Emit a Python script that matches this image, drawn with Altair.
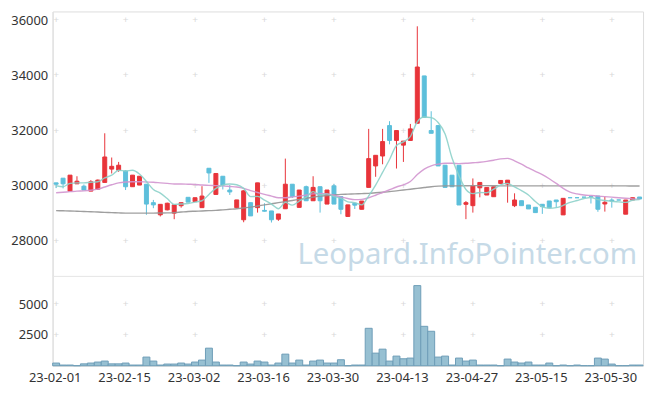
import altair as alt
import pandas as pd

dates = [
    "23-02-01", "23-02-02", "23-02-03", "23-02-06", "23-02-07", "23-02-08", "23-02-09", "23-02-10",
    "23-02-13", "23-02-14", "23-02-15", "23-02-16", "23-02-17", "23-02-20", "23-02-21", "23-02-22",
    "23-02-23", "23-02-24", "23-02-27", "23-02-28",
    "23-03-02", "23-03-03", "23-03-06", "23-03-07", "23-03-08", "23-03-09", "23-03-10", "23-03-13",
    "23-03-14", "23-03-15", "23-03-16", "23-03-17", "23-03-20", "23-03-21", "23-03-22", "23-03-23",
    "23-03-24", "23-03-27", "23-03-28", "23-03-29", "23-03-30", "23-03-31",
    "23-04-03", "23-04-04", "23-04-05", "23-04-06", "23-04-07", "23-04-10", "23-04-11", "23-04-12",
    "23-04-13", "23-04-14", "23-04-17", "23-04-18", "23-04-19", "23-04-20", "23-04-21", "23-04-24",
    "23-04-25", "23-04-26", "23-04-27", "23-04-28",
    "23-05-02", "23-05-03", "23-05-04", "23-05-08", "23-05-09", "23-05-10", "23-05-11", "23-05-12",
    "23-05-15", "23-05-16", "23-05-17", "23-05-18", "23-05-19", "23-05-22", "23-05-23", "23-05-24",
    "23-05-25", "23-05-26", "23-05-30", "23-05-31",
    "23-06-01", "23-06-02", "23-06-05",
]

opens = [30100, 30270, 29800, 30065, 29980, 29800, 29870, 30115, 30600, 30560,
         30530, 29960, 30020, 30050, 29380, 28940, 29120, 29000, 29270, 29575,
         29420, 29200, 30630, 29680, 30340, 29840, 29200, 28760, 29380, 29200,
         29100, 29080, 28780, 29160, 30050, 29210, 29960, 29450, 29960, 29330,
         29990, 29600, 28880, 29360, 29140, 29935, 30714, 31075, 32180, 31640,
         31470, 31640, 32264, 33983, 32000, 32180, 30740, 30378, 30739, 29322,
         29272, 29921, 29658, 29597, 30079, 30054, 29272, 29452, 29297, 29214,
         29322, 29442, 29478, 28937, 29560, 29560, 29580, 29600, 29622, 29333,
         29478, 29478, 28962, 29478, 29586]

closes = [30050, 30065, 30380, 30160, 29840, 30140, 30200, 31040, 30700, 30740,
          29960, 30380, 30340, 29330, 29300, 29320, 29360, 29300, 29380, 29400,
          29560, 29620, 30460, 30440, 30020, 29770, 29480, 29810, 28900, 30100,
          29070, 28760, 28970, 30050, 29600, 29840, 29450, 29935, 29450, 29840,
          29330, 29140, 29300, 29290, 29440, 30980, 31100, 31600, 31640, 32000,
          31616, 32060, 34307, 32480, 31900, 30714, 29935, 29957, 29297, 29380,
          29982, 30115, 29935, 29957, 30187, 30198, 29478, 29272, 29153, 29020,
          29236, 29200, 29416, 29538, 29560, 29560, 29580, 29600, 29142, 29395,
          29440, 29478, 29478, 29560, 29514]

highs = [30100, 30270, 30380, 30340, 30040, 30200, 30220, 31900, 31020, 30860,
         30560, 30380, 30340, 30050, 29480, 29320, 29380, 29300, 29380, 29575,
         29560, 29980, 30630, 30440, 30340, 30020, 29480, 29830, 29380, 30100,
         29360, 29080, 28970, 30980, 30050, 29840, 30000, 30340, 29960, 29840,
         30060, 29600, 29300, 29360, 29440, 32060, 31100, 32060, 32340, 32000,
         31616, 32240, 35785, 33983, 32700, 32180, 30740, 30378, 30739, 29440,
         30260, 30115, 29935, 29957, 30187, 30198, 29720, 29452, 29297, 29214,
         29322, 29442, 29478, 29538, 29560, 29560, 29580, 29600, 29622, 29597,
         29540, 29478, 29478, 29560, 29586]

lows = [29910, 29900, 29800, 30065, 29840, 29800, 29850, 30115, 30440, 30500,
        29840, 29960, 30020, 28940, 29180, 28880, 29100, 28780, 29200, 29400,
        29420, 29200, 30100, 29680, 29860, 29660, 29200, 28670, 28900, 29020,
        29060, 28660, 28720, 29150, 29550, 29210, 29450, 29450, 29020, 29330,
        29330, 28960, 28880, 29150, 29140, 29935, 30320, 30775, 31500, 30620,
        30860, 31640, 32264, 32480, 31900, 30714, 29935, 29957, 29297, 28782,
        29020, 29575, 29658, 29597, 30079, 29380, 29220, 29272, 29153, 29020,
        28973, 29200, 29200, 28937, 29560, 29560, 29580, 29350, 29050, 29056,
        29200, 29478, 28962, 29478, 29514]

volumes = [215, 54, 54, 0, 150, 215, 296, 376, 150, 150,
           215, 54, 54, 700, 376, 54, 134, 134, 215, 134,
           296, 457, 1425, 296, 54, 54, 0, 296, 134, 376,
           296, 54, 215, 941, 215, 457, 54, 376, 457, 215,
           215, 484, 0, 54, 54, 3040, 1022, 1345, 377, 780,
           565, 619, 6510, 3201, 2798, 700, 780, 54, 619, 377,
           457, 54, 54, 54, 0, 538, 296, 215, 296, 54,
           54, 215, 0, 54, 0, 54, 0, 0, 619, 538,
           134, 0, 0, 54, 54]

ma5 = [29990, 29960, 30080, 30100, 30100, 30120, 30140, 30280, 30380, 30560,
       30530, 30560, 30420, 30150, 29860, 29730, 29530, 29320, 29330, 29350,
       29400, 29450, 29680, 29900, 30020, 30060, 30030, 29900, 29600, 29610,
       29470, 29330, 29160, 29390, 29290, 29440, 29580, 29780, 29660, 29700,
       29600, 29540, 29410, 29380, 29300, 29630, 30020, 30480, 30950, 31460,
       31590, 31780, 32320, 32490, 32470, 32290, 31870, 31000, 30360, 29860,
       29710, 29750, 29740, 29870, 30030, 30080, 29950, 29820, 29660, 29420,
       29230, 29180, 29200, 29280, 29390, 29460, 29530, 29570, 29490, 29460,
       29430, 29410, 29390, 29470, 29490]

ma20 = [29740, 29760, 29780, 29800, 29810, 29830, 29870, 29950, 30030, 30100,
        30130, 30140, 30140, 30130, 30120, 30100, 30080, 30060, 30060, 30050,
        30040, 30020, 30010, 30000, 29990, 29970, 29950, 29900, 29820, 29750,
        29680, 29620, 29560, 29560, 29590, 29620, 29660, 29700, 29720, 29700,
        29650, 29580, 29530, 29490, 29500, 29560, 29650, 29750, 29850, 29950,
        30030, 30150, 30400, 30600, 30720, 30780, 30810, 30810, 30800, 30810,
        30830, 30850, 30880, 30920, 30970, 30990, 30900, 30780, 30640, 30520,
        30400, 30250, 30080, 29900, 29760, 29700, 29660, 29640, 29620, 29600,
        29580, 29560, 29540, 29520, 29500]

ma60 = [29090, 29085, 29080, 29070, 29060, 29050, 29040, 29030, 29020, 29010,
        29000, 29000, 29000, 29000, 29000, 29005, 29010, 29020, 29040, 29060,
        29070, 29080, 29090, 29100, 29120, 29140, 29160, 29190, 29220, 29260,
        29300, 29340, 29380, 29420, 29460, 29500, 29540, 29580, 29620, 29640,
        29660, 29680, 29690, 29700, 29710, 29720, 29740, 29760, 29780, 29810,
        29840, 29870, 29900, 29930, 29960, 29980, 29990, 29990, 29990, 29995,
        30000, 30000, 30000, 29995, 29990, 29990, 29990, 29990, 29990, 29990,
        29990, 29990, 29990, 29990, 29990, 29990, 29990, 29990, 29990, 29990,
        29990, 29990, 29990, 29985, 29985]

tick_labels = ["23-02-01", "23-02-15", "23-03-02", "23-03-16", "23-03-30",
               "23-04-13", "23-04-27", "23-05-15", "23-05-30"]
price_ticks = [28000, 30000, 32000, 34000, 36000]
volume_ticks = [2500, 5000]
watermark = ["Leopard.InfoPointer.com"]

FONT = "Noto Sans"
RED = "#e8343a"
BLUE = "#5dbfdb"
W = 595
H = 357          # price pane 267 px on top, volume pane 90 px below
PRICE_DOMAIN = [23460, 36324]
VOL_DOMAIN = [0, 28790]

df = pd.DataFrame(dict(date=dates, open=opens, high=highs, low=lows, close=closes,
                       volume=volumes, ma5=ma5, ma20=ma20, ma60=ma60))

xscale = alt.Scale(domain=dates, paddingInner=0, paddingOuter=0)
xaxis = alt.Axis(values=tick_labels, labelAngle=0, ticks=False, grid=False,
                 domainColor="#dddddd", labelColor="#333333", labelFontSize=13,
                 labelFont=FONT, labelPadding=6, labelOffset=-1, title=None,
                 labelFlush=False)


def xenc():
    return alt.X("date:O", sort=dates, scale=xscale, axis=xaxis, title=None)


def yaxis(values):
    return alt.Axis(values=values, format="d", title=None, grid=False, ticks=False,
                    orient="left", domainColor="#e3e3e3", labelColor="#333333",
                    labelFontSize=13, labelFont=FONT, labelPadding=5,
                    minExtent=45, maxExtent=45, labelFlush=False)


def yprice(field, axis=False):
    return alt.Y(field, type="quantitative",
                 scale=alt.Scale(domain=PRICE_DOMAIN, nice=False, zero=False),
                 axis=yaxis(price_ticks) if axis else None, title=None)


def yvol(field, axis=False):
    return alt.Y(field, type="quantitative",
                 scale=alt.Scale(domain=VOL_DOMAIN, nice=False, zero=True),
                 axis=yaxis(volume_ticks) if axis else None, title=None)


cross_top = pd.DataFrame([(d, v) for d in tick_labels for v in price_ticks],
                         columns=["date", "value"])
cross_bot = pd.DataFrame([(d, v) for d in tick_labels for v in volume_ticks],
                         columns=["date", "value"])

color = alt.condition("datum.close > datum.open", alt.value(RED), alt.value(BLUE))

crosses = alt.Chart(cross_top).mark_text(text="+", fontSize=10, color="#d9d9d9",
                                         baseline="middle", align="center").encode(
    x=xenc(), y=yprice("value"))

crosses_b = alt.Chart(cross_bot).mark_text(text="+", fontSize=10, color="#d9d9d9",
                                           baseline="middle", align="center").encode(
    x=xenc(), y=yvol("value"))

separator = alt.Chart(pd.DataFrame({"s": [0]})).mark_rule(
    color="#e6e6e6", strokeWidth=1).encode(
    x=alt.value(0), x2=alt.value(W), y=alt.value(267))

mark_wm = alt.Chart(pd.DataFrame({"t": watermark})).mark_text(
    fontSize=29.5, font=FONT, color="#c6dae7", align="right",
    baseline="alphabetic").encode(
    text="t:N", x=alt.value(589), y=alt.value(255))

wicks = alt.Chart(df).mark_rule(strokeWidth=1).encode(
    x=xenc(), y=yprice("low", axis=True), y2="high", color=color)

bodies = alt.Chart(df).mark_bar(size=4, strokeWidth=1).encode(
    x=xenc(), y=yprice("open"), y2="close", color=color, stroke=color)

line5 = alt.Chart(df).mark_line(color="#8dd2ca", strokeWidth=1.4, opacity=0.9,
                                interpolate="monotone").encode(x=xenc(), y=yprice("ma5"))
line20 = alt.Chart(df).mark_line(color="#d295cf", strokeWidth=1.4, opacity=0.9,
                                 interpolate="monotone").encode(x=xenc(), y=yprice("ma20"))
line60 = alt.Chart(df).mark_line(color="#959595", strokeWidth=1.4, opacity=0.9,
                                 interpolate="monotone").encode(x=xenc(), y=yprice("ma60"))

vol = alt.Chart(df).mark_bar(color="#97c0d2", stroke="#6e9db7", strokeWidth=1).encode(
    x=xenc(), y=yvol("volume", axis=True))

chart = alt.layer(
    crosses, crosses_b, separator, mark_wm, vol, wicks, bodies, line60, line20, line5
).resolve_scale(y="independent").resolve_axis(y="independent").properties(
    width=W, height=H,
    padding={"left": 0, "top": 2, "right": 5, "bottom": 5}
).configure_view(stroke="#e6e6e6").configure(background="white")

chart.save("out.html", embed_options={"renderer": "svg", "actions": False})
